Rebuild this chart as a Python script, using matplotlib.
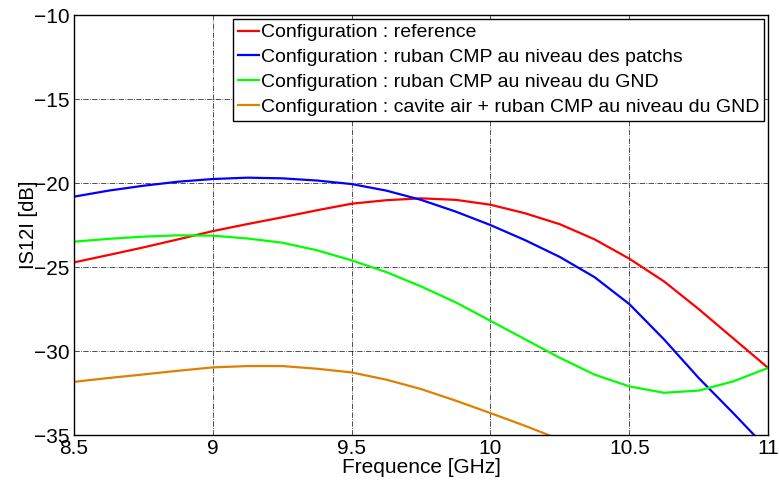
import matplotlib
matplotlib.use('Agg')
import matplotlib.pyplot as plt

plt.rcParams['font.family'] = ['Liberation Sans', 'DejaVu Sans']

freq = [8.5, 8.625, 8.75, 8.875, 9.0, 9.125, 9.25, 9.375, 9.5, 9.625, 9.75,
        9.875, 10.0, 10.125, 10.25, 10.375, 10.5, 10.625, 10.75, 10.875, 11.0]

s12_ref = [-24.72, -24.28, -23.83, -23.35, -22.86, -22.44, -22.04, -21.62, -21.23, -21.02, -20.91,
           -21.0, -21.29, -21.8, -22.45, -23.35, -24.5, -25.85, -27.5, -29.25, -31.0]

freq_patch = [8.5, 8.625, 8.75, 8.875, 9.0, 9.125, 9.25, 9.375, 9.5, 9.625, 9.75,
              9.875, 10.0, 10.125, 10.25, 10.375, 10.5, 10.625, 10.75, 10.875, 10.95, 11.0]
s12_patch = [-20.81, -20.45, -20.16, -19.92, -19.76, -19.68, -19.72, -19.85, -20.06, -20.45, -21.0,
             -21.7, -22.5, -23.4, -24.4, -25.6, -27.2, -29.3, -31.6, -33.7, -35.0, -36.3]

s12_gnd = [-23.49, -23.32, -23.19, -23.11, -23.13, -23.3, -23.55, -24.0, -24.6, -25.3, -26.15,
           -27.1, -28.2, -29.3, -30.4, -31.4, -32.1, -32.48, -32.35, -31.8, -31.0]

freq_cav = [8.5, 8.625, 8.75, 8.875, 9.0, 9.125, 9.25, 9.375, 9.5, 9.625, 9.75,
            9.875, 10.0, 10.125, 10.21, 10.25]
s12_cav = [-31.83, -31.6, -31.39, -31.17, -30.97, -30.89, -30.89, -31.05, -31.27, -31.7, -32.26,
           -32.95, -33.69, -34.45, -35.0, -35.3]

labels = ['Configuration : reference',
          'Configuration : ruban CMP au niveau des patchs',
          'Configuration : ruban CMP au niveau du GND',
          'Configuration : cavite air + ruban CMP au niveau du GND']

fig = plt.figure(figsize=(7.79, 4.84), dpi=100)
ax = fig.add_axes([0.095, 0.101, 0.891, 0.868])

ax.plot(freq, s12_ref, color=(1, 0, 0), lw=1.6, label=labels[0])
ax.plot(freq_patch, s12_patch, color=(0, 0, 1), lw=1.6, label=labels[1])
ax.plot(freq, s12_gnd, color=(0, 1, 0), lw=1.6, label=labels[2])
ax.plot(freq_cav, s12_cav, color='#E08000', lw=1.6, label=labels[3])

ax.set_xlim(8.5, 11)
ax.set_ylim(-35, -10)
ax.set_xticks([8.5, 9, 9.5, 10, 10.5, 11])
ax.set_xticklabels(['8.5', '9', '9.5', '10', '10.5', '11'])
ax.set_yticks([-35, -30, -25, -20, -15, -10])
ax.tick_params(labelsize=15, direction='in', length=0, pad=3)
ax.grid(True, color='black', linestyle='-.', linewidth=0.6, alpha=0.8)
for sp in ax.spines.values():
    sp.set_linewidth(1.0)

ax.set_xlabel('Frequence [GHz]', fontsize=15, labelpad=0)
ax.set_ylabel('IS12I [dB]', fontsize=14.5, labelpad=-3)

leg = ax.legend(loc='upper right', fontsize=14, handlelength=1.1, handletextpad=0.1,
                borderpad=0.25, labelspacing=0.37, borderaxespad=0.2, fancybox=False,
                framealpha=1, edgecolor='black')
leg.get_frame().set_linewidth(1.0)

fig.savefig('out.png', dpi=100)
